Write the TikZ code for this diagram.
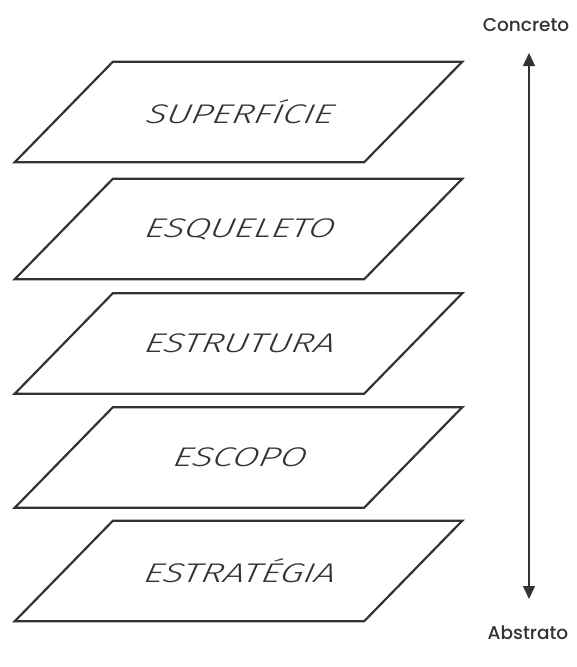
\documentclass[tikz,border=0pt]{standalone}
\usepackage{fontspec}
\usetikzlibrary{arrows.meta}
\newfontfamily\layerfont{Fira Sans}[UprightFont=* Light Italic, FakeStretch=1.4, FakeSlant=0.24]
\newfontfamily\labelfont{Poppins}[UprightFont=* Medium]
\definecolor{ink}{HTML}{333333}

\begin{document}
\begin{tikzpicture}[
    x=1pt, y=-1pt,
    layer/.style={rectangle, minimum width=349pt, minimum height=100pt,
      inner sep=0pt, font=\layerfont\fontsize{27}{30}\selectfont, text=ink},
    outline/.style={draw=ink, line width=2.2pt, line join=miter},
    axislabel/.style={font=\labelfont\fontsize{18.5}{21}\selectfont, text=ink},
    axis/.style={draw=ink, line width=1.3pt,
      {Triangle[width=12pt,length=13pt]}-{Triangle[width=12pt,length=13pt]}}
  ]
  \useasboundingbox (0,0) rectangle (576,667);

  % layers, top to bottom
  \node[layer] (superficie) at (238.5,112) {SUPERFÍCIE};
  \node[layer] (esqueleto) at (238.5,229) {ESQUELETO};
  \node[layer] (estrutura) at (238.5,343.5) {ESTRUTURA};
  \node[layer] (escopo) at (238.5,457.5) {ESCOPO};
  \node[layer] (estrategia) at (238.5,571) {ESTRATÉGIA};

  % slanted planes around each layer
  \foreach \n in {superficie,esqueleto,estrutura,escopo,estrategia}
    \draw[outline] ([xshift=49pt]\n.north west) -- ([xshift=49pt]\n.north east)
      -- ([xshift=-49pt]\n.south east) -- ([xshift=-49pt]\n.south west) -- cycle;

  % concrete / abstract axis
  \node[axislabel] (concreto) at (526,25) {Concreto};
  \node[axislabel] (abstrato) at (528,633) {Abstrato};
  \coordinate (top) at (529,53);
  \coordinate (bottom) at (529,599);
  \draw[axis] (top) -- (bottom);
\end{tikzpicture}
\end{document}
